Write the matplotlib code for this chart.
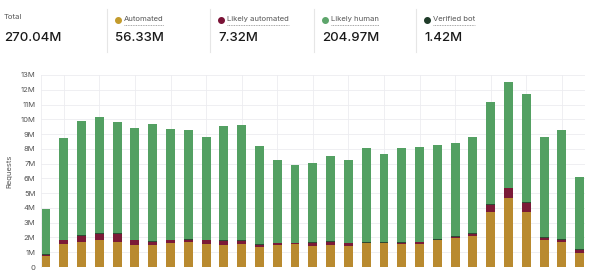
import numpy as np
import matplotlib.pyplot as plt

plt.rcParams['font.family'] = ['Inter', 'DejaVu Sans']

# daily request counts (millions)
automated = [0.77, 1.56, 1.72, 1.81, 1.69, 1.51, 1.49, 1.65, 1.69, 1.58,
             1.51, 1.53, 1.33, 1.51, 1.56, 1.44, 1.47, 1.44, 1.60, 1.60,
             1.55, 1.56, 1.83, 1.99, 2.10, 3.70, 4.67, 3.72, 1.83, 1.69, 0.93]
likely_automated = [0.04, 0.25, 0.38, 0.45, 0.57, 0.30, 0.23, 0.16, 0.14, 0.23,
                    0.25, 0.25, 0.18, 0.09, 0.05, 0.21, 0.25, 0.16, 0.05, 0.05,
                    0.10, 0.11, 0.03, 0.03, 0.13, 0.50, 0.66, 0.64, 0.16, 0.14, 0.22]
verified_bot = [0.04, 0.05, 0.05, 0.05, 0.05, 0.05, 0.05, 0.05, 0.05, 0.05,
                0.05, 0.05, 0.04, 0.04, 0.04, 0.04, 0.04, 0.04, 0.05, 0.05,
                0.05, 0.05, 0.05, 0.05, 0.05, 0.05, 0.05, 0.05, 0.05, 0.05, 0.04]
totals = [3.93, 8.76, 9.86, 10.16, 9.82, 9.39, 9.66, 9.35, 9.28, 8.80,
          9.53, 9.59, 8.22, 7.25, 6.91, 7.07, 7.52, 7.22, 8.04, 7.63,
          8.04, 8.10, 8.28, 8.42, 8.83, 11.15, 12.51, 11.74, 8.80, 9.30, 6.07]

summary_labels = ["Automated", "Likely automated", "Likely human", "Verified bot"]
summary_values = ["56.33M", "7.32M", "204.97M", "1.42M"]
dot_colors = ["#C39B2C", "#7A1236", "#5DA56B", "#1F3B29"]
bar_colors = ["#B98A2F", "#7B1A37", "#2E4A33", "#53A062"]

automated = np.array(automated) * 1e6
likely_automated = np.array(likely_automated) * 1e6
verified_bot = np.array(verified_bot) * 1e6
totals = np.array(totals) * 1e6
likely_human = totals - automated - likely_automated - verified_bot

fig = plt.figure(figsize=(6.02, 2.73), dpi=100)

##### header with totals #####
W, H = 602, 273
def fx(px): return px / W
def fy(py): return 1 - py / H

fig.text(fx(4), fy(17), "Total", fontsize=5.5, color="#555555", va="center")
fig.text(fx(4), fy(38), "270.04M", fontsize=9.5, weight="medium", color="#1a1a1a", va="center")

starts = [115, 218, 322, 424]
for i, (lab, val) in enumerate(zip(summary_labels, summary_values)):
    x0 = starts[i]
    # separator, dot, label
    fig.lines.append(plt.Line2D([fx(x0 - 8)] * 2, [fy(9), fy(52)], transform=fig.transFigure,
                                color="#e6e6e6", lw=0.8))
    fig.lines.append(plt.Line2D([fx(x0 + 2.5)], [fy(19.5)], transform=fig.transFigure,
                                marker="o", ms=4, color=dot_colors[i], lw=0))
    t = fig.text(fx(x0 + 9), fy(19), lab, fontsize=5.5, color="#555555", va="center")
    # dotted underline
    fig.canvas.draw()
    bb = t.get_window_extent()
    fig.lines.append(plt.Line2D([bb.x0 / W, bb.x1 / W], [fy(24.5)] * 2, transform=fig.transFigure,
                                color="#888888", lw=0.6, ls=(0, (1, 1))))
    fig.text(fx(x0), fy(38), val, fontsize=9.5, weight="medium", color="#1a1a1a", va="center")

##### bar chart #####
ax = fig.add_axes([fx(41), fy(267), fx(585 - 41), (267 - 75) / H])
x = np.arange(len(totals))
w = 0.5
ax.bar(x, automated, w, color=bar_colors[0], zorder=3)
ax.bar(x, likely_automated, w, bottom=automated, color=bar_colors[1], zorder=3)
ax.bar(x, verified_bot, w, bottom=automated + likely_automated, color=bar_colors[2], zorder=3)
ax.bar(x, likely_human, w, bottom=automated + likely_automated + verified_bot,
       color=bar_colors[3], zorder=3)

ax.set_xlim(-0.28, 30.3)
ax.set_ylim(0, 13e6)
ax.set_yticks(np.arange(0, 14) * 1e6)
ax.set_yticklabels(["0"] + [f"{i}M" for i in range(1, 14)])
ax.set_xticks(np.arange(1, 31, 2))
ax.set_xticklabels([])
ax.tick_params(axis="both", length=0, labelsize=5.5, labelcolor="#555555", pad=4)
ax.grid(True, color="#ececf0", lw=0.6, zorder=0)
for s in ["top", "right", "bottom"]:
    ax.spines[s].set_visible(False)
ax.spines["left"].set_color("#ececf0")
ax.spines["left"].set_linewidth(0.6)
ax.set_ylabel("Requests", fontsize=5.5, color="#555555", labelpad=6)

fig.savefig("out.png", dpi=100)
